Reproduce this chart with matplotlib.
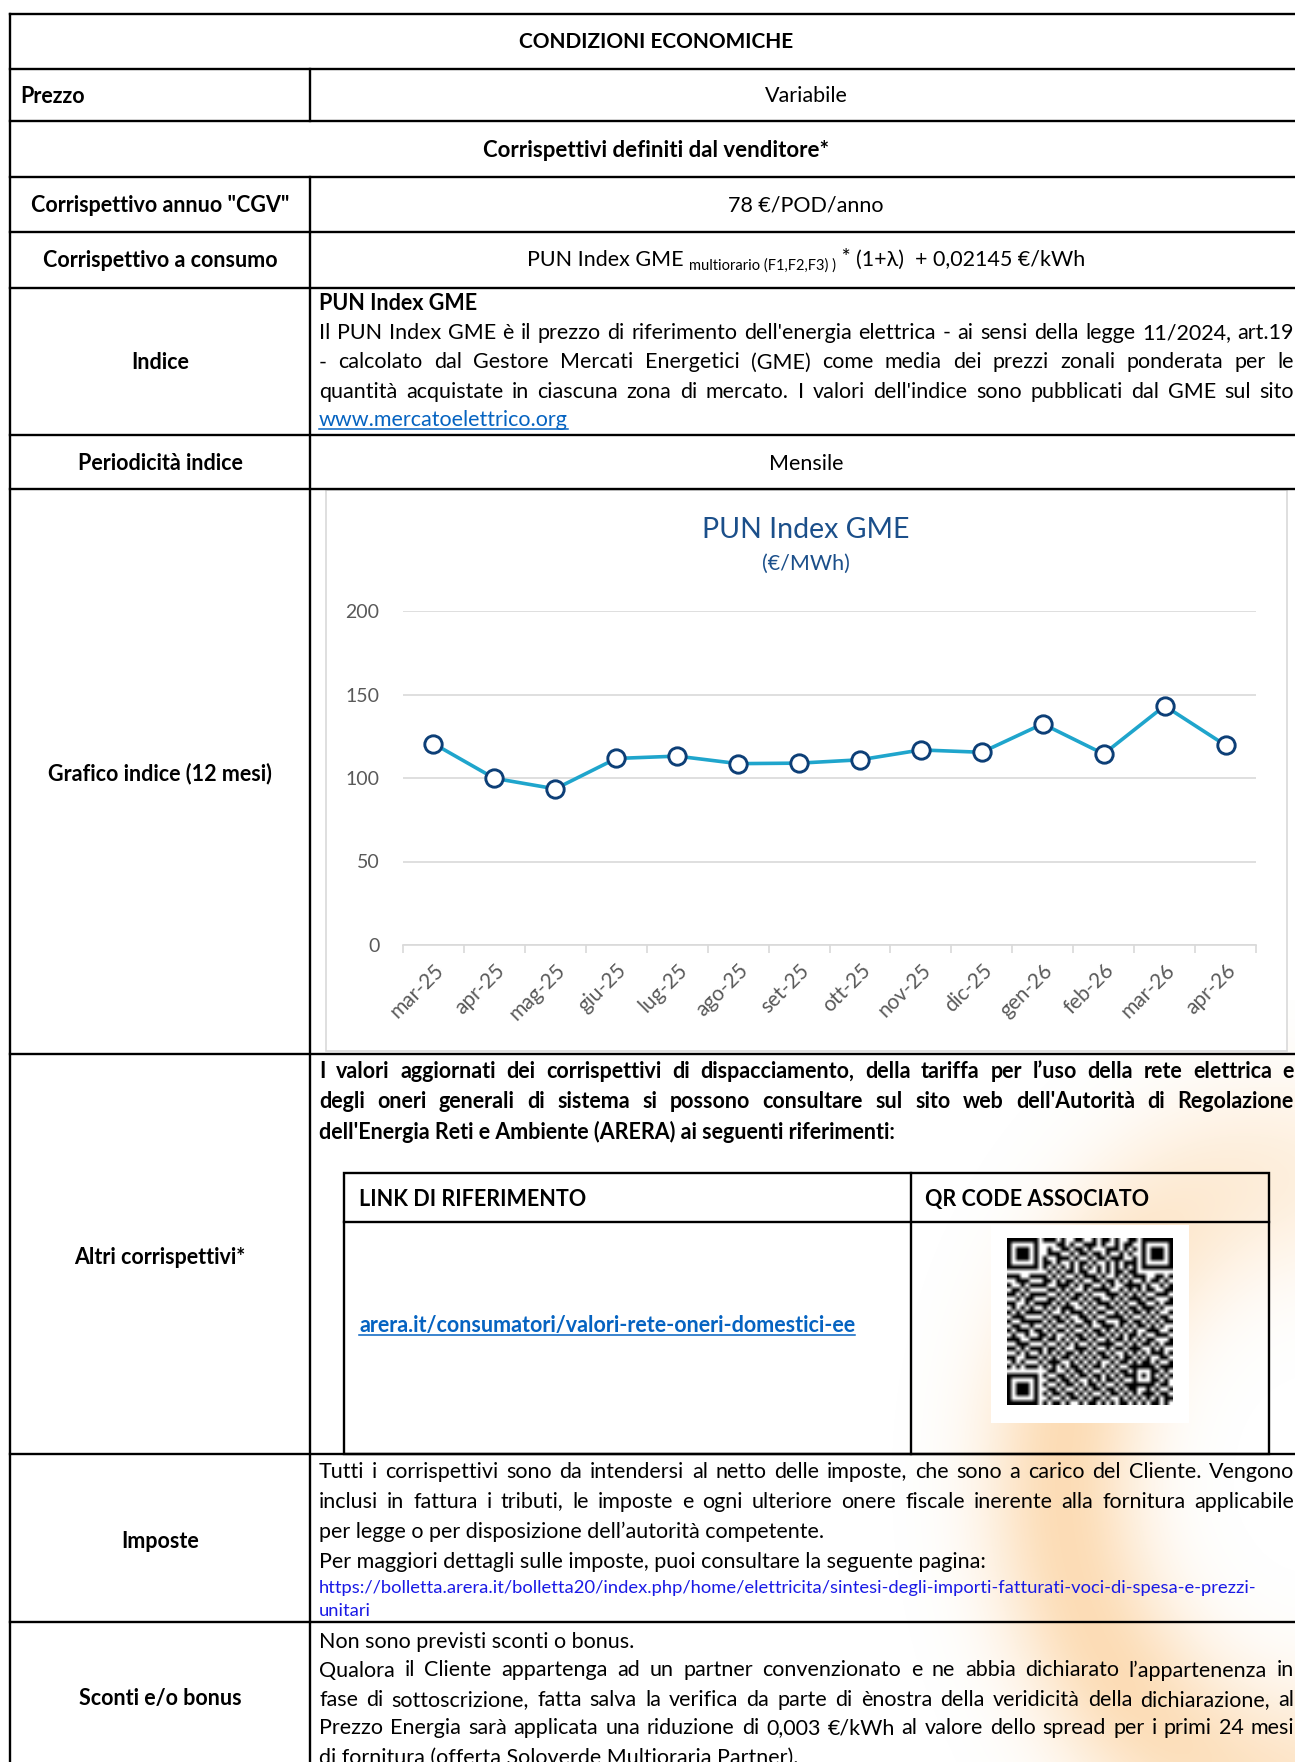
import numpy as np
import matplotlib
matplotlib.use('Agg')
import matplotlib.pyplot as plt
from matplotlib.patches import Rectangle

W, H = 1295, 1762
FONT = ['Lato', 'DejaVu Sans']
FS = 15.5
plt.rcParams['font.family'] = FONT

# chart data (PUN Index GME, EUR/MWh)
months = ['mar-25', 'apr-25', 'mag-25', 'giu-25', 'lug-25', 'ago-25', 'set-25',
          'ott-25', 'nov-25', 'dic-25', 'gen-26', 'feb-26', 'mar-26', 'apr-26']
pun_values = [120.6, 99.8, 93.5, 111.7, 113.1, 108.6, 108.9,
              110.9, 116.8, 115.4, 132.4, 114.4, 143.2, 119.6]
yticks = [0, 50, 100, 150, 200]

# table text
indice_lines = [
    "Il PUN Index GME è il prezzo di riferimento dell'energia elettrica - ai sensi della legge 11/2024, art.19",
    "- calcolato dal Gestore Mercati Energetici (GME) come media dei prezzi zonali ponderata per le",
    "quantità acquistate in ciascuna zona di mercato. I valori dell'indice sono pubblicati dal GME sul sito",
]
altri_lines = [
    "I valori aggiornati dei corrispettivi di dispacciamento, della tariffa per l’uso della rete elettrica e",
    "degli oneri generali di sistema si possono consultare sul sito web dell'Autorità di Regolazione",
    "dell'Energia Reti e Ambiente (ARERA) ai seguenti riferimenti:",
]
imposte_lines = [
    "Tutti i corrispettivi sono da intendersi al netto delle imposte, che sono a carico del Cliente. Vengono",
    "inclusi in fattura i tributi, le imposte e ogni ulteriore onere fiscale inerente alla fornitura applicabile",
    "per legge o per disposizione dell’autorità competente.",
    "Per maggiori dettagli sulle imposte, puoi consultare la seguente pagina:",
]
imposte_link = ["https://bolletta.arera.it/bolletta20/index.php/home/elettricita/sintesi-degli-importi-fatturati-voci-di-spesa-e-prezzi-",
                "unitari"]
sconti_lines = [
    "Non sono previsti sconti o bonus.",
    "Qualora il Cliente appartenga ad un partner convenzionato e ne abbia dichiarato l’appartenenza in",
    "fase di sottoscrizione, fatta salva la verifica da parte di ènostra della veridicità della dichiarazione, al",
    "Prezzo Energia sarà applicata una riduzione di 0,003 €/kWh al valore dello spread per i primi 24 mesi",
    "di fornitura (offerta Soloverde Multioraria Partner).",
]

# hand typed module pattern for the QR picture
qr_rows = [
    "1101001011101001100101101001110100101", "0110110100011010011101001011000111010",
    "1010011101001101101000111010110010011", "0011100101110010110110100101001101101",
    "1100101010011101001011011100101010110", "0101110011010010110100101011100101001",
    "1011000110101101001101110010011010111", "0100111001010110110010101101100111010",
    "1110010110101001011101001010111001101", "0011101011010110100110110101001011010",
    "1001010110011101011001010011110100101", "0110101001101010010111100101010110011",
    "1101010110010101101000111010101001110", "0010111001101011010110010101110110001",
    "1100100111010100101011101010011001011", "0101011010101110010100110101101110100",
    "1010110101001011101011001010110101001", "0111001010110100110100111101001010110",
    "1001110101011010011011000110110101011", "0110011010100101101001110101011010100",
    "1011100101011010010110101010100111001", "0100101110100101101011010101101001110",
    "1110010101101010110100101101010110001", "0011101010010101001011110010101101011",
    "1101010101101001110100101101110010100", "0010101101010110101011010010101011101",
    "1100110010101101010101101011010100110", "0101001101110010101010010110101101001",
    "1010110010101011010110101001011010111", "0111010101100101101001010110100101010",
    "1001101010011010110110101011010110101", "0110010101101101001010110100101011010",
    "1011101010010110101101001011011010110", "0100110101101001010110110101100101001",
    "1101001010110110101001011010101110110", "0010110101001011010110100101010101011",
    "1101011010110100101101010110101011010",
]

fig = plt.figure(figsize=(W / 100, H / 100), dpi=100)
bg = fig.add_axes([0, 0, 1, 1])
bg.axis('off')
bg.set_xlim(0, W)
bg.set_ylim(H, 0)
bg.set_autoscale_on(False)
renderer = fig.canvas.get_renderer()


def put(x, y, s, size=FS, weight='normal', color='black', ha='left', va='center'):
    return bg.text(x, y + 1.5, s, fontsize=size, fontweight=weight, color=color,
                   ha=ha, va=va, zorder=4)


def width(t):
    return t.get_window_extent(renderer).width


def justify(x0, x1, y, line, weight='normal', size=FS):
    words = line.split(' ')
    texts = [put(x0, y, w, weight=weight, size=size) for w in words]
    ws = [width(t) for t in texts]
    gap = (x1 - x0 - sum(ws)) / (len(ws) - 1)
    if gap < 3:
        # too long: shrink this line a little
        scale = (x1 - x0 - 3 * (len(ws) - 1)) / sum(ws)
        for t in texts:
            t.set_fontsize(size * scale)
        ws = [w * scale for w in ws]
        gap = 3
    x = x0
    for t, w in zip(texts, ws):
        t.set_x(x)
        x += w + gap


def underline(x0, y, t, color, dy=10):
    w = width(t)
    bg.plot([x0, x0 + w], [y + dy, y + dy], color=color, lw=1.1, zorder=4)


# soft orange watermark ring in the lower right
gx, gy = np.meshgrid(np.arange(860, W), np.arange(1000, H))
dx, dy = gx - 1300.0, gy - 1480.0
rho = np.sqrt((dx / 330.0) ** 2 + (dy / 420.0) ** 2)
cos_t = dx / (np.hypot(dx, dy) + 1)
side = np.clip(0.6 - 0.45 * cos_t + 0.15 * dy / (np.hypot(dx, dy) + 1), 0.1, 1)
alpha = 0.42 * np.exp(-((rho - 0.72) / 0.24) ** 2) * side
rgba = np.zeros(gx.shape + (4,))
rgba[..., 0], rgba[..., 1], rgba[..., 2] = 0.98, 0.68, 0.32
rgba[..., 3] = np.clip(alpha, 0, 0.5)
bg.imshow(rgba, extent=(860, W, H, 1000), aspect='auto', zorder=0, interpolation='bilinear')

# table grid
LC = 'black'
LW = 1.7
row_lines = [13.5, 68.6, 121.4, 176.5, 231.6, 287.8, 435, 489, 1054, 1454, 1622]
for y in row_lines:
    bg.plot([10, W + 10], [y, y], color=LC, lw=LW, zorder=5)
bg.plot([10, 10], [13.5, H + 10], color=LC, lw=LW, zorder=5)
bg.plot([310, 310], [68.6, 121.4], color=LC, lw=LW, zorder=5)
bg.plot([310, 310], [176.5, H + 10], color=LC, lw=LW, zorder=5)

# simple rows
put(656, 41, "CONDIZIONI ECONOMICHE", weight='bold', ha='center', size=15)
put(20, 95, "Prezzo", weight='bold')
put(806, 95, "Variabile", ha='center')
put(656, 149, "Corrispettivi definiti dal venditore*", weight='bold', ha='center', size=16)
put(160, 204, 'Corrispettivo annuo "CGV"', weight='bold', ha='center')
put(806, 204, "78 €/POD/anno", ha='center')
put(160, 259, "Corrispettivo a consumo", weight='bold', ha='center')

# formula row
pieces = [("PUN Index GME ", FS, 0), ("multiorario (F1,F2,F3) )", 10.5, 4),
          (" * ", FS, -2), ("(1+λ)  + 0,02145 €/kWh", FS, 0)]
ptexts = [bg.text(0, 266 + dy, s, fontsize=sz, va='baseline', ha='left', zorder=4)
          for s, sz, dy in pieces]
pw = [width(t) for t in ptexts]
x = 806 - sum(pw) / 2
for t, w in zip(ptexts, pw):
    t.set_x(x)
    x += w

# Indice
put(160, 361, "Indice", weight='bold', ha='center')
put(319, 302, "PUN Index GME", weight='bold')
for y, line in zip([331.6, 361, 390], indice_lines):
    justify(319, 1294, y, line)
t = put(319, 419, "www.mercatoelettrico.org", color='#0563C1')
underline(319, 419, t, '#0563C1')

put(160, 462, "Periodicità indice", weight='bold', ha='center')
put(806, 462, "Mensile", ha='center')
put(160, 772, "Grafico indice (12 mesi)", weight='bold', ha='center')

# chart frame and chart
bg.add_patch(Rectangle((326, 490), 961, 561, fc='white', ec='#D9D9D9', lw=1.2, zorder=1))
bg.text(806, 530, "PUN Index GME", fontsize=20.5, color='#1B4F8A', ha='center', va='center', zorder=4)
bg.text(806, 564, "(€/MWh)", fontsize=15.5, color='#1B4F8A', ha='center', va='center', zorder=4)

cax = fig.add_axes([403 / W, 1 - 945 / H, (1256 - 403) / W, (945 - 611) / H])
cax.patch.set_alpha(0)
cax.set_xlim(-0.5, 13.5)
cax.set_ylim(0, 200)
cax.plot(range(len(months)), pun_values, color='#1FA5CC', lw=2.6, marker='o', ms=12.5,
         mfc='white', mec='#0D3F77', mew=2.1, zorder=3, clip_on=False)
cax.set_yticks(yticks)
cax.set_yticklabels([str(v) for v in yticks])
cax.yaxis.grid(True, color='#D9D9D9', lw=1.2)
cax.set_axisbelow(True)
for s in ['top', 'right', 'left']:
    cax.spines[s].set_visible(False)
cax.spines['bottom'].set_color('#D9D9D9')
cax.spines['bottom'].set_linewidth(1.2)
cax.tick_params(axis='y', length=0, pad=17, labelsize=14, labelcolor='#595959')
cax.set_xticks(range(len(months)))
cax.set_xticklabels(months, rotation=45, ha='right', rotation_mode='anchor')
cax.tick_params(axis='x', which='major', length=0, pad=11, labelsize=15, labelcolor='#595959')
cax.set_xticks(np.arange(-0.5, len(months)), minor=True)
cax.tick_params(axis='x', which='minor', length=6, color='#D9D9D9', width=1.2)

# Altri corrispettivi
put(160, 1256, "Altri corrispettivi*", weight='bold', ha='center')
for y, line in zip([1070, 1100], altri_lines[:2]):
    justify(319, 1294, y, line, weight='bold')
put(319, 1130, altri_lines[2], weight='bold')

bg.add_patch(Rectangle((344, 1173), 925, 281, fc='none', ec=LC, lw=LW, zorder=5))
bg.plot([344, 1269], [1222, 1222], color=LC, lw=LW, zorder=5)
bg.plot([911, 911], [1173, 1454], color=LC, lw=LW, zorder=5)
put(359, 1198, "LINK DI RIFERIMENTO", weight='bold')
put(925, 1198, "QR CODE ASSOCIATO", weight='bold')
t = put(359, 1324, "arera.it/consumatori/valori-rete-oneri-domestici-ee", weight='bold', color='#0563C1')
underline(359, 1324, t, '#0563C1', dy=11)

# QR picture
n = len(qr_rows)
qr = np.array([[int(c) for c in r[:n].ljust(n, '0')] for r in qr_rows])
for r0, c0 in [(0, 0), (0, n - 7), (n - 7, 0)]:
    rr0, rr1 = max(r0 - 1, 0), min(r0 + 8, n)
    cc0, cc1 = max(c0 - 1, 0), min(c0 + 8, n)
    qr[rr0:rr1, cc0:cc1] = 0
    qr[r0:r0 + 7, c0:c0 + 7] = 1
    qr[r0 + 1:r0 + 6, c0 + 1:c0 + 6] = 0
    qr[r0 + 2:r0 + 5, c0 + 2:c0 + 5] = 1
qr[6, 8:n - 8] = np.arange(8, n - 8) % 2 == 0
qr[8:n - 8, 6] = np.arange(8, n - 8) % 2 == 0
qr[n - 9:n - 4, n - 9:n - 4] = 1
qr[n - 8:n - 5, n - 8:n - 5] = 0
qr[n - 7, n - 7] = 1
bg.add_patch(Rectangle((991, 1225), 198, 198, fc='white', ec='none', zorder=2))
bg.imshow(1 - qr, cmap='gray', extent=(1007, 1173, 1405, 1238), interpolation='bilinear',
          zorder=3, aspect='auto')

# Imposte
put(160, 1540, "Imposte", weight='bold', ha='center')
for y, line in zip([1470, 1500], imposte_lines[:2]):
    justify(319, 1294, y, line)
put(319, 1530, imposte_lines[2])
put(319, 1560, imposte_lines[3])
put(319, 1587, imposte_link[0], size=13.2, color='#1A1AE6')
put(319, 1610, imposte_link[1], size=13.2, color='#1A1AE6')

# Sconti
put(160, 1697, "Sconti e/o bonus", weight='bold', ha='center')
put(319, 1640, sconti_lines[0])
for y, line in zip([1669, 1698.5, 1727], sconti_lines[1:4]):
    justify(319, 1294, y, line)
put(319, 1756, sconti_lines[4])

bg.set_xlim(0, W)
bg.set_ylim(H, 0)
fig.savefig('out.png', dpi=100, facecolor='white')
